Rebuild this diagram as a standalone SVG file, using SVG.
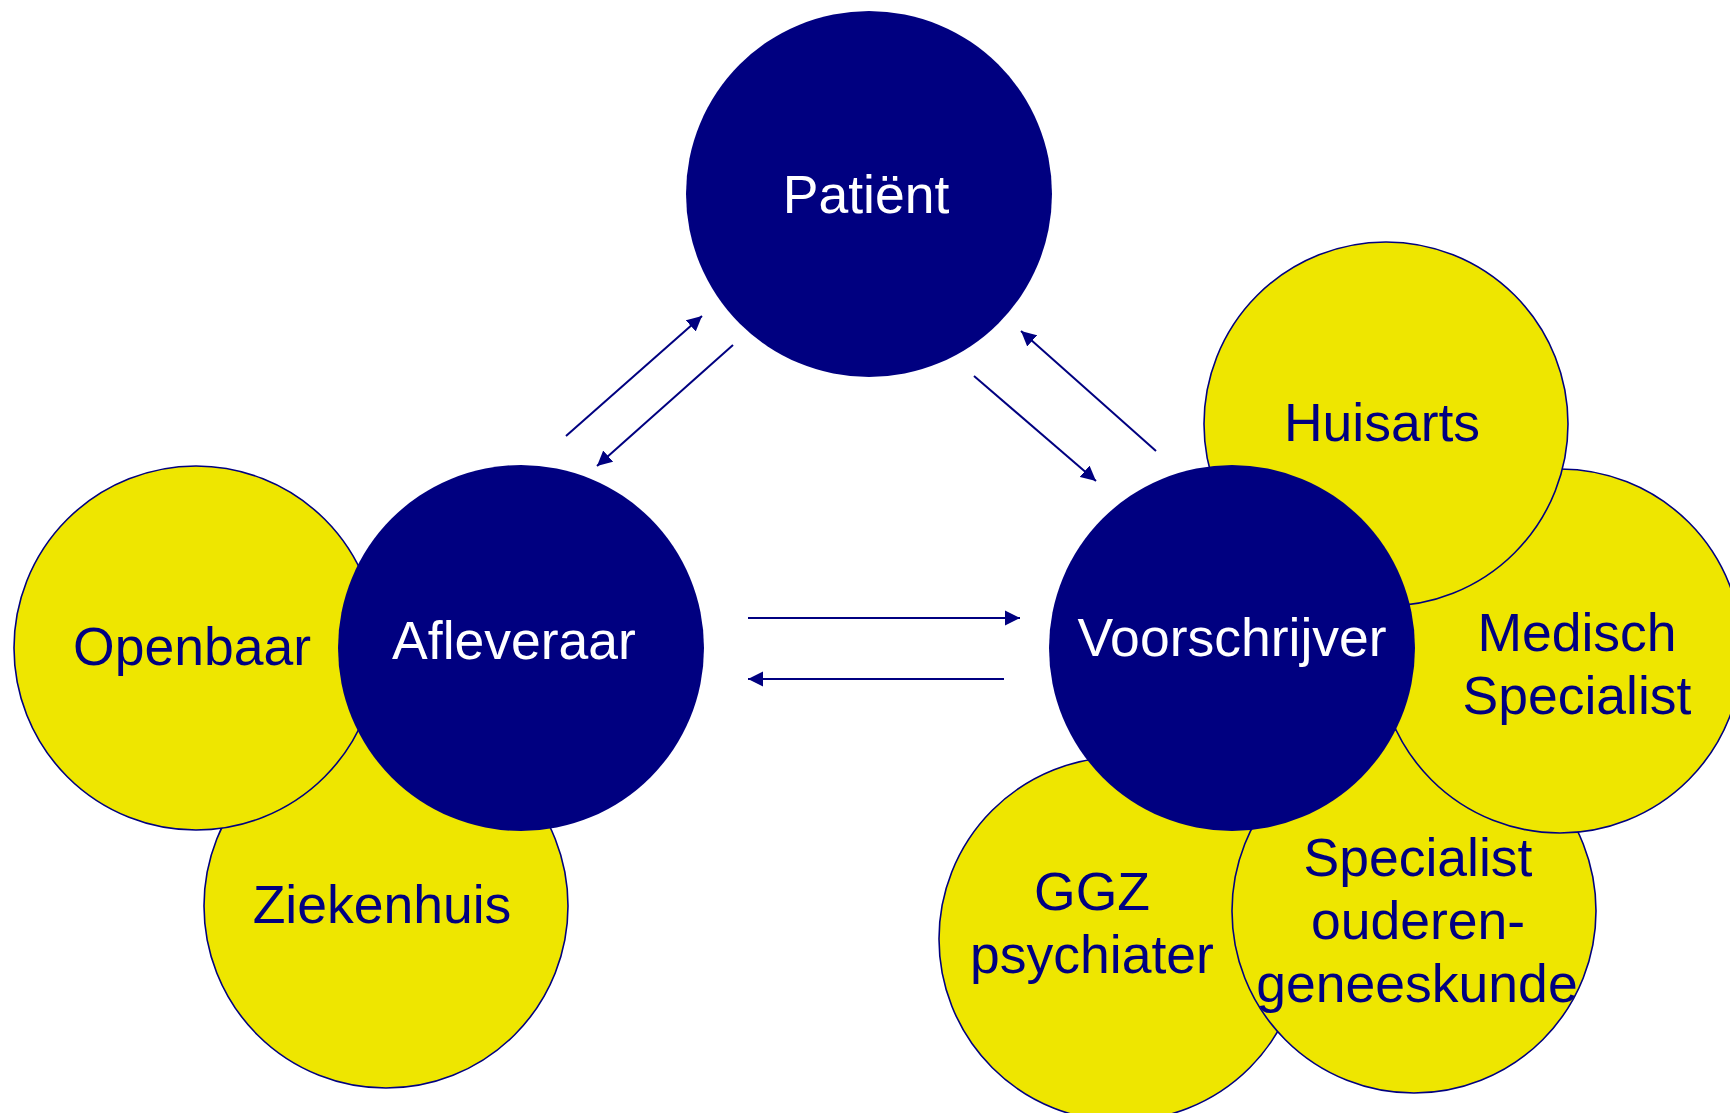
<svg xmlns="http://www.w3.org/2000/svg" width="1730" height="1113" viewBox="0 0 1730 1113">
<style>
.main{fill:#000080;}
.sub{fill:#EEE600;stroke:#000080;stroke-width:1.6;}
.t{font-family:"Liberation Sans",Arial,sans-serif;font-size:53.5px;text-anchor:middle;}
.tw{fill:#FFFFFF;}
.tb{fill:#000080;}
.c{stroke:#000080;stroke-width:2;fill:none;marker-end:url(#ah);}
</style>
<defs>
<marker id="ah" markerUnits="userSpaceOnUse" markerWidth="16" markerHeight="16" refX="15" refY="8" orient="auto">
<path d="M0,0.5 L15,8 L0,15.5 Z" fill="#000080"/>
</marker>
</defs>
<rect width="1730" height="1113" fill="#FFFFFF"/>
<g id="ziekenhuis"><circle class="sub" cx="386" cy="906" r="182"/><text class="t tb" x="382" y="923">Ziekenhuis</text></g>
<g id="openbaar"><circle class="sub" cx="196" cy="648" r="182"/><text class="t tb" x="192" y="665">Openbaar</text></g>
<g id="afleveraar"><circle class="main" cx="521" cy="648" r="183"/><text class="t tw" x="514" y="659">Afleveraar</text></g>
<g id="ggz"><circle class="sub" cx="1121" cy="939" r="182"/><text class="t tb" x="1092" y="910">GGZ</text><text class="t tb" x="1092" y="973">psychiater</text></g>
<g id="specialist-ouderengeneeskunde"><circle class="sub" cx="1414" cy="911" r="182"/><text class="t tb" x="1418" y="876">Specialist</text><text class="t tb" x="1418" y="939">ouderen-</text><text class="t tb" x="1417" y="1002">geneeskunde</text></g>
<g id="medisch-specialist"><circle class="sub" cx="1560" cy="651" r="182"/><text class="t tb" x="1577" y="651">Medisch</text><text class="t tb" x="1577" y="714">Specialist</text></g>
<g id="huisarts"><circle class="sub" cx="1386" cy="424" r="182"/><text class="t tb" x="1382" y="441">Huisarts</text></g>
<g id="voorschrijver"><circle class="main" cx="1232" cy="648" r="183"/><text class="t tw" x="1232" y="656">Voorschrijver</text></g>
<g id="patient"><circle class="main" cx="869" cy="194" r="183"/><text class="t tw" x="866" y="213">Patiënt</text></g>
<g id="connectors">
<line class="c" x1="566" y1="436" x2="702" y2="316"/>
<line class="c" x1="733" y1="345" x2="597" y2="466"/>
<line class="c" x1="974" y1="376" x2="1096" y2="481"/>
<line class="c" x1="1156" y1="451" x2="1021" y2="331"/>
<line class="c" x1="748" y1="618" x2="1020" y2="618"/>
<line class="c" x1="1004" y1="679" x2="748" y2="679"/>
</g>
</svg>
